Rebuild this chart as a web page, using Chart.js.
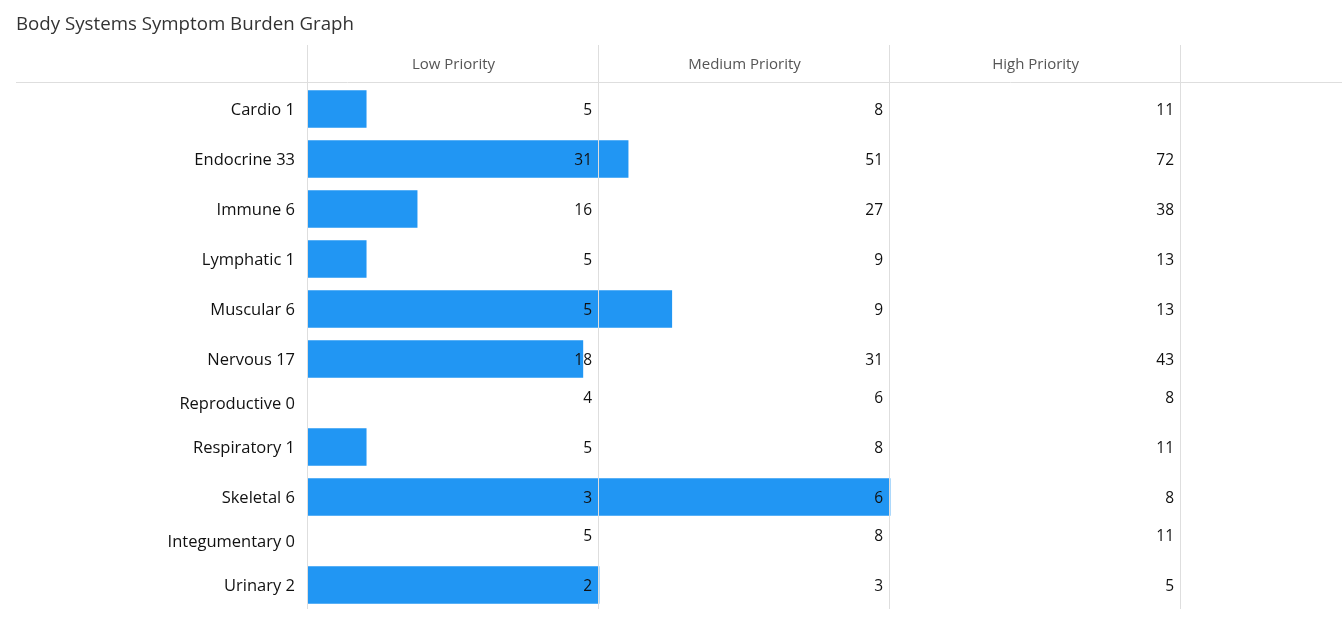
<!DOCTYPE html>
<html>
<head>
<meta charset="utf-8">
<script src="https://cdn.jsdelivr.net/npm/chart.js@4/dist/chart.umd.min.js"></script>
<style>
  html, body { margin: 0; padding: 0; background: #fff; }
  #wrap { position: relative; width: 1342px; height: 628px; }
</style>
</head>
<body>
<div id="wrap"><canvas id="burden"></canvas></div>
<script>
    const systems = [
        'Cardio', 'Endocrine', 'Immune', 'Lymphatic', 'Muscular', 'Nervous',
        'Reproductive', 'Respiratory', 'Skeletal', 'Integumentary', 'Urinary'
    ];
    const scores = [1, 33, 6, 1, 6, 17, 0, 1, 6, 0, 2];
    const lowLimits = [5, 31, 16, 5, 5, 18, 4, 5, 3, 5, 2];
    const mediumLimits = [8, 51, 27, 9, 9, 31, 6, 8, 6, 8, 3];
    const highLimits = [11, 72, 38, 13, 13, 43, 8, 11, 8, 11, 5];
    const columnTitles = ['Low Priority', 'Medium Priority', 'High Priority'];

    const FONT = '"Open Sans", "Noto Sans", sans-serif';

    // bar length in "columns": each priority column holds one band of thresholds
    function bandLength(i) {
        const s = scores[i];
        if (s === 0) return null;
        const steps = [0, lowLimits[i], mediumLimits[i], highLimits[i]];
        for (let k = 1; k < steps.length; k++) {
            if (s <= steps[k]) {
                return (k - 1) + (s - steps[k - 1]) / (steps[k] - steps[k - 1]);
            }
        }
        return 3;
    }

    // rows without a bar are drawn shorter
    const rowHeights = scores.map(s => s === 0 ? 0.76 : 1);
    const rowCenters = [];
    let acc = 0;
    rowHeights.forEach(h => { rowCenters.push(acc + h / 2); acc += h; });
    const totalRows = acc;

    const tableDecor = {
        id: 'tableDecor',
        afterDatasetsDraw(chart) {
            const ctx = chart.ctx;
            const x = chart.scales.x;
            const y = chart.scales.y;
            const area = chart.chartArea;
            ctx.save();

            // title
            ctx.fillStyle = '#333';
            ctx.font = '18.7px ' + FONT;
            ctx.textAlign = 'left';
            ctx.textBaseline = 'middle';
            ctx.fillText('Body Systems Symptom Burden Graph', 16, 25);

            // header rule
            ctx.strokeStyle = '#dedede';
            ctx.lineWidth = 1;
            ctx.beginPath();
            ctx.moveTo(16, area.top - 1.5);
            ctx.lineTo(chart.width, area.top - 1.5);
            ctx.stroke();

            // column separators
            for (let c = 0; c <= 3; c++) {
                const px = Math.round(x.getPixelForValue(c)) - 0.5;
                ctx.beginPath();
                ctx.moveTo(px, 45);
                ctx.lineTo(px, area.bottom - 1);
                ctx.stroke();
            }

            // column headers
            ctx.fillStyle = '#555';
            ctx.font = '15px ' + FONT;
            ctx.textAlign = 'center';
            columnTitles.forEach((t, c) => {
                ctx.fillText(t, x.getPixelForValue(c + 0.5), 65);
            });

            // threshold numbers
            ctx.fillStyle = '#111';
            ctx.font = '500 15.5px ' + FONT;
            ctx.textAlign = 'right';
            const limits = [lowLimits, mediumLimits, highLimits];
            rowCenters.forEach((pos, i) => {
                const py = y.getPixelForValue(pos) + 1.5 - (scores[i] === 0 ? 6 : 0);
                limits.forEach((arr, c) => {
                    ctx.fillText(String(arr[i]), x.getPixelForValue(c + 1) - 7, py);
                });
            });
            ctx.restore();
        }
    };

    const burdenCfg = {
        type: 'bar',
        data: {
            datasets: [{
                label: 'Score',
                data: systems.map((s, i) => ({ x: bandLength(i), y: rowCenters[i] })),
                backgroundColor: '#2196F3',
                borderWidth: 0,
                barThickness: 37
            }]
        },
        options: {
            indexAxis: 'y',
            responsive: true,
            maintainAspectRatio: false,
            animation: false,
            layout: { padding: { top: 84, bottom: 18, left: 0, right: 0 } },
            scales: {
                x: {
                    type: 'linear',
                    display: false,
                    min: 0,
                    max: 3.553
                },
                y: {
                    type: 'linear',
                    reverse: true,
                    offset: false,
                    min: 0,
                    max: totalRows,
                    grid: { display: false, drawTicks: false },
                    border: { display: false },
                    afterBuildTicks(scale) {
                        scale.ticks = rowCenters.map(v => ({ value: v }));
                    },
                    afterFit(scale) {
                        scale.width = 308;
                        scale.paddingTop = 0;
                        scale.paddingBottom = 0;
                    },
                    ticks: {
                        autoSkip: false,
                        padding: 13,
                        labelOffset: 1.5,
                        color: '#111',
                        font: { family: FONT, size: 16.5, weight: '500' },
                        callback: (value, index) => systems[index] + ' ' + scores[index]
                    }
                }
            },
            plugins: {
                legend: { display: false },
                tooltip: { enabled: false }
            }
        },
        plugins: [tableDecor]
    };

    const burden = new Chart(document.getElementById('burden'), burdenCfg);
</script>
</body>
</html>
